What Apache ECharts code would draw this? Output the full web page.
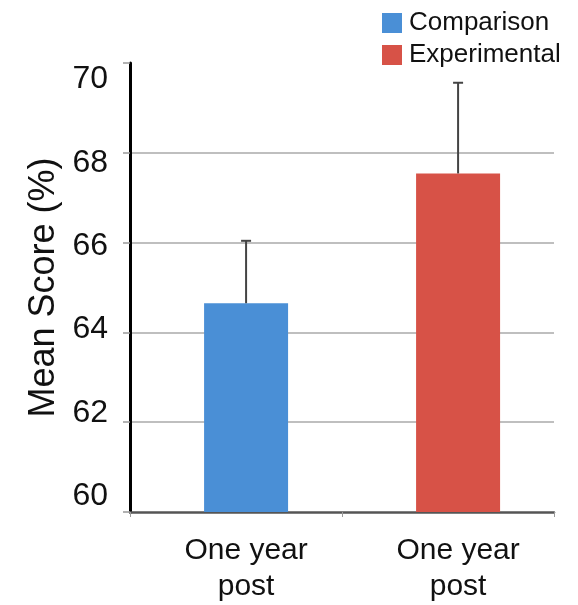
<!DOCTYPE html>
<html>
<head>
<meta charset="utf-8">
<script src="https://cdn.jsdelivr.net/npm/echarts@6/dist/echarts.min.js"></script>
<style>html,body{margin:0;padding:0;background:#fff}#c{width:578px;height:605px}</style>
</head>
<body>
<div id="c"></div>
<script>
// ---- data ----
const categories = ['One year\npost', 'One year\npost'];
const seriesNames = ['Comparison', 'Experimental'];
const comparisonMean = [64.65, '-'];
const experimentalMean = ['-', 67.54];
const means = [64.65, 67.54];
const errors = [1.39, 2.02];
const tickLabels = [60, 62, 64, 66, 68, 70];

// ---- style ----
const FONT = 'Liberation Sans, Arial, Helvetica, sans-serif';
const BAR_W = 84;
const GAP = -0.76;
const BAR_SHIFT = BAR_W * (1 + GAP) / 2;
const BLUE = '#4a8fd6';
const RED = '#d75247';

const chart = echarts.init(document.getElementById('c'));
chart.setOption({
  animation: false,
  backgroundColor: '#fff',
  grid: { left: 130, right: 24, top: 63, bottom: 88, containLabel: false },
  legend: {
    data: seriesNames,
    orient: 'vertical',
    left: 377, top: 5,
    itemWidth: 20, itemHeight: 20, itemGap: 6,
    icon: 'rect',
    textStyle: { fontFamily: FONT, fontSize: 26, color: '#111', padding: [0, 0, 0, 2] }
  },
  xAxis: {
    type: 'category',
    data: categories,
    axisLine: { lineStyle: { color: '#555', width: 2.5 } },
    axisTick: { show: true, length: 5, lineStyle: { color: '#999', width: 1 } },
    axisLabel: { fontFamily: FONT, fontSize: 30, lineHeight: 36, color: '#111', margin: 21, interval: 0,
                 padding: [0, 0, 0, 2 * BAR_SHIFT] },
    splitLine: { show: false }
  },
  yAxis: [{
    type: 'value', position: 'left', min: 60, max: 70, interval: 2,
    name: 'Mean Score (%)', nameLocation: 'middle', nameGap: 68,
    nameTextStyle: { fontFamily: FONT, fontSize: 36, color: '#111' },
    axisLine: { show: true, lineStyle: { color: '#000', width: 3 } },
    axisTick: { show: true, length: 7, lineStyle: { color: '#999', width: 1.5 } },
    axisLabel: { show: false },
    splitLine: { show: true, showMaxLine: false, showMinLine: false, lineStyle: { color: '#aaa', width: 1.5 } }
  }, {
    type: 'value', position: 'left', min: 59.62, max: 70.40,
    axisLine: { show: false }, axisTick: { show: false }, splitLine: { show: false },
    axisLabel: { customValues: tickLabels, fontFamily: FONT, fontSize: 32, color: '#111', margin: 22 }
  }],
  series: [
    { type: 'bar', name: '_slot', stack: 'slot', data: [], barWidth: BAR_W, barGap: (GAP * 100) + '%' },
    { type: 'bar', name: seriesNames[0], stack: 'a', data: comparisonMean, barWidth: BAR_W, barGap: (GAP * 100) + '%',
      itemStyle: { color: BLUE } },
    { type: 'bar', name: seriesNames[1], stack: 'a', data: experimentalMean, barWidth: BAR_W, barGap: (GAP * 100) + '%',
      itemStyle: { color: RED } },
    { type: 'custom', name: 'err', z: 5,
      data: means.map((m, i) => [i, m, errors[i]]),
      encode: { x: 0, y: 1 },
      renderItem: function (params, api) {
        const i = api.value(0), m = api.value(1), e = api.value(2);
        const p0 = api.coord([i, m]);
        const p1 = api.coord([i, m + e]);
        const x = p0[0] + BAR_SHIFT;
        return { type: 'group', children: [
          { type: 'line', shape: { x1: x, y1: p0[1], x2: x, y2: p1[1] }, style: { stroke: '#444', lineWidth: 2 } },
          { type: 'line', shape: { x1: x - 5, y1: p1[1], x2: x + 5, y2: p1[1] }, style: { stroke: '#444', lineWidth: 2 } }
        ]};
      }
    }
  ]
});
</script>
</body>
</html>
